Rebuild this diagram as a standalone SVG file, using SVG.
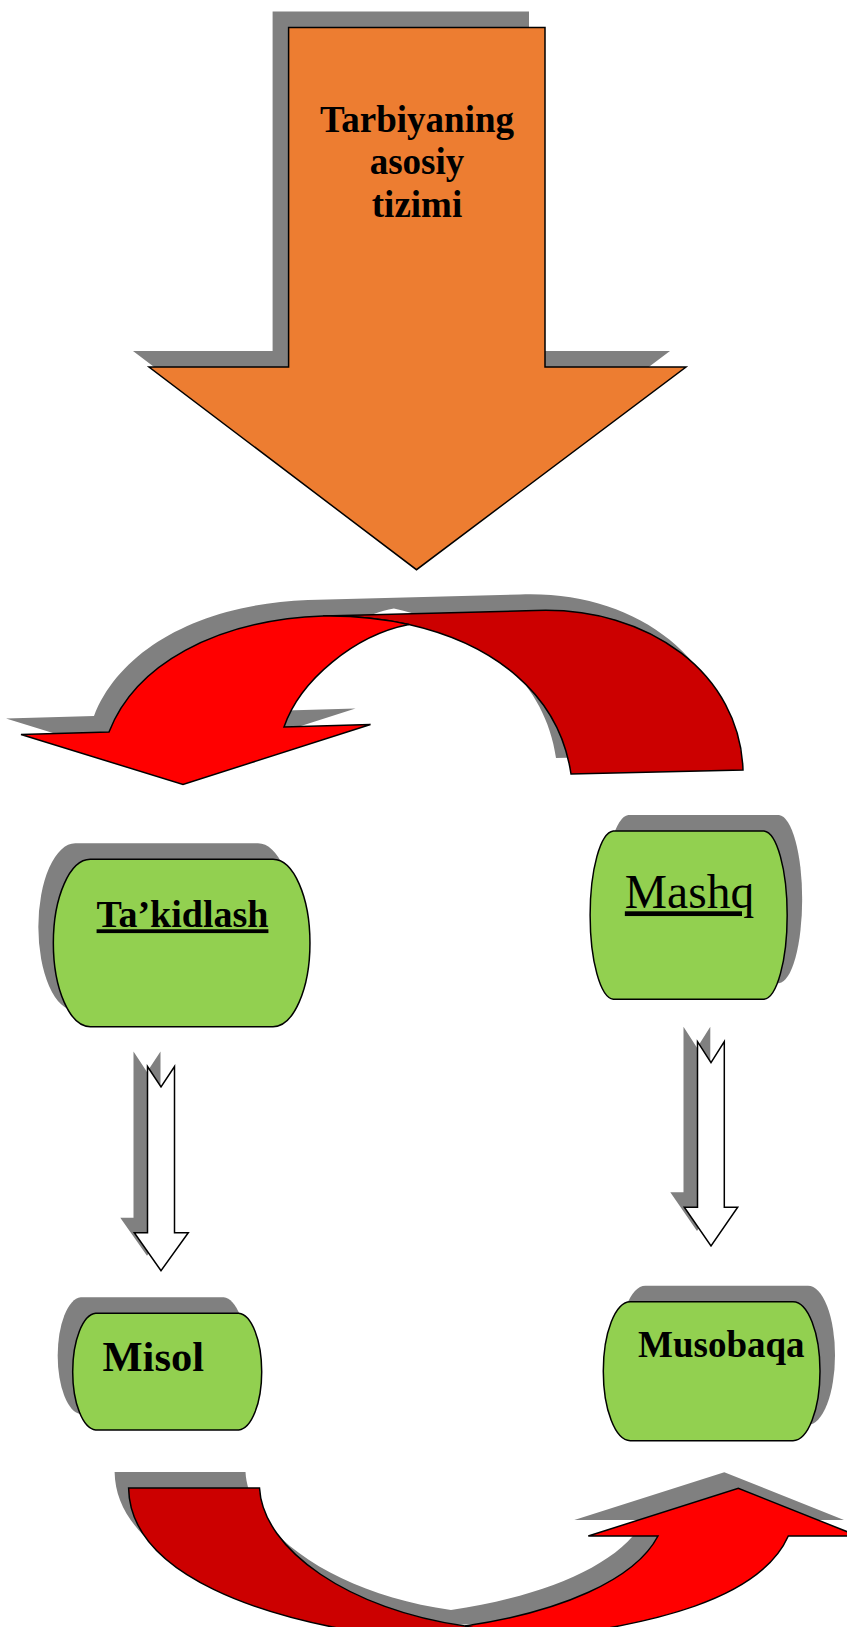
<svg xmlns="http://www.w3.org/2000/svg" xmlns:xlink="http://www.w3.org/1999/xlink" width="847" height="1627" viewBox="0 0 847 1627">
<style>
.sh{fill:#808080;stroke:none}
.ln{stroke:#000;stroke-width:1.5;stroke-linejoin:miter}
.orange{fill:#ED7D31}
.green{fill:#92D050}
.red{fill:#FF0000}
.dred{fill:#CC0000}
.white{fill:#FFFFFF}
.tb{font-family:"Liberation Serif","Times New Roman",serif;font-weight:bold;fill:#000}
.tr{font-family:"Liberation Serif","Times New Roman",serif;font-weight:normal;fill:#000}
.ul{text-decoration:underline;text-decoration-thickness:3px}
</style>
<defs>
<path id="p-orange" d="M288.6,27.5 H545 V367 H686 L416.5,569.7 L149,367 H288.6 Z"/>
<path id="p-n1" d="M90.3,859.3 H273 A37,83.7 0 0 1 273,1026.7 H90.3 A37,83.7 0 0 1 90.3,859.3 Z"/>
<path id="p-n2" d="M613.3,831 H764 A24,84.2 0 0 1 764,999.3 H613.3 A24,84.2 0 0 1 613.3,831 Z"/>
<path id="p-n3" d="M95.7,1313.3 H238.7 A24,58.4 0 0 1 238.7,1430 H95.7 A24,58.4 0 0 1 95.7,1313.3 Z"/>
<path id="p-n4" d="M630.3,1301.7 H793 A27,69.5 0 0 1 793,1440.7 H630.3 A27,69.5 0 0 1 630.3,1301.7 Z"/>
<path id="p-a1d" d="M323,616 L535,610.5 C650,606 740,675 743,770 L571,774 C559,692.25 491.3,643.1 408.9,624.5 C381.4,618.3 352.25,615.5 323,616 Z"/>
<path id="p-a1l" d="M109,732 L21,734.5 L183,784.5 L370.5,724.5 L284,727 C300,680 355,635 408.9,624.5 C381.4,618.3 352.25,615.5 323,616 C215,620 135,665 109,732 Z"/>
<path id="p-a1s" d="M109,732 L21,734.5 L183,784.5 L370.5,724.5 L284,727 C300,680 355,635 408.9,624.5 C491.3,643.1 559,692.25 571,774 L743,770 C740,675 650,606 535,610.5 L323,616 C215,620 135,665 109,732 Z"/>
<path id="p-a2d" d="M128.6,1488 L259.5,1488 C263,1550 350,1610 465,1626 C500,1631 530,1637 560,1642 L440,1642 C250,1625 130,1570 128.6,1488 Z"/>
<path id="p-a2l" d="M465,1626 C560,1612 635,1580 658,1536 L588.3,1536 L738.3,1488.3 L858,1536 L788.3,1536 C760,1600 650,1625 540,1638 C520,1640 500,1633 465,1626 Z"/>
<path id="p-a2s" d="M128.6,1488 L259.5,1488 C263,1550 350,1610 465,1626 C560,1612 635,1580 658,1536 L588.3,1536 L738.3,1488.3 L858,1536 L788.3,1536 C760,1600 650,1625 540,1638 L440,1642 C250,1625 130,1570 128.6,1488 Z"/>
<path id="p-v1" d="M147.5,1066.5 L161,1087 L174.5,1066.5 V1232.7 H188.3 L161,1270.7 L134.3,1232.7 H147.5 Z"/>
<path id="p-v2" d="M697.5,1041.7 L711,1062.7 L724.3,1041.7 V1207.3 H737.7 L711,1246 L684.3,1207.3 H697.5 Z"/>
</defs>

<g id="node-tarbiyaning">
<use xlink:href="#p-orange" class="sh" transform="translate(-16,-16)"/>
<use xlink:href="#p-orange" class="orange ln"/>
<text class="tb" font-size="37" text-anchor="middle"><tspan x="417" y="131.5">Tarbiyaning</tspan><tspan x="417" y="174">asosiy</tspan><tspan x="417" y="217">tizimi</tspan></text>
</g>

<g id="connectors">
<g id="curved-arrow-top">
<use xlink:href="#p-a1s" class="sh" transform="translate(-15,-16)"/>
<use xlink:href="#p-a1d" class="dred ln"/>
<use xlink:href="#p-a1l" class="red ln"/>
</g>
<g id="arrow-takidlash-misol">
<use xlink:href="#p-v1" class="sh" transform="translate(-14,-15)"/>
<use xlink:href="#p-v1" class="white ln"/>
</g>
<g id="arrow-mashq-musobaqa">
<use xlink:href="#p-v2" class="sh" transform="translate(-14,-15)"/>
<use xlink:href="#p-v2" class="white ln"/>
</g>
<g id="curved-arrow-bottom">
<use xlink:href="#p-a2s" class="sh" transform="translate(-14,-16)"/>
<use xlink:href="#p-a2d" class="dred ln"/>
<use xlink:href="#p-a2l" class="red ln"/>
</g>
</g>

<g id="node-takidlash">
<use xlink:href="#p-n1" class="sh" transform="translate(-15,-16)"/>
<use xlink:href="#p-n1" class="green ln"/>
<text class="tb ul" x="182.5" y="927.3" font-size="38" text-anchor="middle">Ta’kidlash</text>
</g>

<g id="node-mashq">
<use xlink:href="#p-n2" class="sh" transform="translate(15,-16)"/>
<use xlink:href="#p-n2" class="green ln"/>
<text class="tr ul" x="689.5" y="908.3" font-size="47.5" text-anchor="middle">Mashq</text>
</g>

<g id="node-misol">
<use xlink:href="#p-n3" class="sh" transform="translate(-15,-16)"/>
<use xlink:href="#p-n3" class="green ln"/>
<text class="tb" x="102.5" y="1370.7" font-size="42.5">Misol</text>
</g>

<g id="node-musobaqa">
<use xlink:href="#p-n4" class="sh" transform="translate(15,-16)"/>
<use xlink:href="#p-n4" class="green ln"/>
<text class="tb" x="638" y="1357.3" font-size="37">Musobaqa</text>
</g>
</svg>
